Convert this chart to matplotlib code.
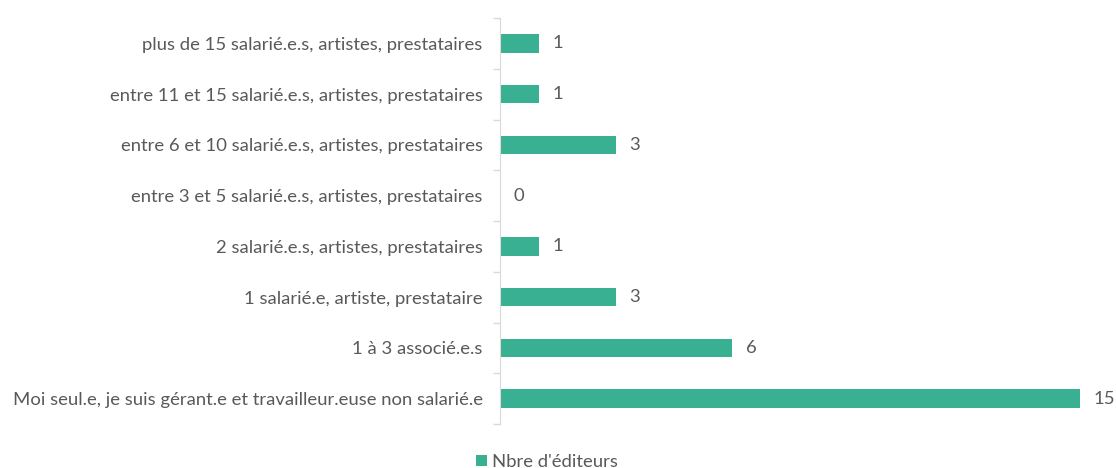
import numpy as np
import matplotlib.pyplot as plt

categories = [
    "Moi seul.e, je suis gérant.e et travailleur.euse non salarié.e",
    "1 à 3 associé.e.s",
    "1 salarié.e, artiste, prestataire",
    "2 salarié.e.s, artistes, prestataires",
    "entre 3 et 5 salarié.e.s, artistes, prestataires",
    "entre 6 et 10 salarié.e.s, artistes, prestataires",
    "entre 11 et 15 salarié.e.s, artistes, prestataires",
    "plus de 15 salarié.e.s, artistes, prestataires",
]
values = [15, 6, 3, 1, 0, 3, 1, 1]
series_name = "Nbre d'éditeurs"

plt.rcParams['font.family'] = ['Lato', 'DejaVu Sans']
text_color = '#595959'
bar_color = '#3AB092'
grid_color = '#D9D9D9'

fig = plt.figure(figsize=(11.16, 4.68), dpi=100)
ax = fig.add_axes([500 / 1116, 1 - 424 / 468, 580 / 1116, 406 / 468])

y = np.arange(len(categories))
ax.barh(y, values, height=0.36, color=bar_color, label=series_name)

for yi, v in zip(y, values):
    ax.text(v + 0.35, yi, str(v), va='center', ha='left', fontsize=13.3,
            color=text_color, clip_on=False)

ax.set_xlim(0, 15)
ax.set_ylim(-0.5, len(categories) - 0.5)
ax.set_yticks(y)
ax.set_yticklabels(categories, fontsize=13.3, color=text_color)
ax.tick_params(axis='y', length=0, pad=12.5)
ax.set_yticks(np.arange(-0.5, len(categories)), minor=True)
ax.tick_params(axis='y', which='minor', length=5, color=grid_color, width=1)
ax.set_xticks([])

for s in ['top', 'right', 'bottom']:
    ax.spines[s].set_visible(False)
ax.spines['left'].set_color(grid_color)

fig.legend(loc='lower center', bbox_to_anchor=(0.49, -0.04), frameon=False,
           fontsize=13.3, labelcolor=text_color, handlelength=0.6, handleheight=0.6,
           handletextpad=0.3)

plt.savefig('out.png', dpi=100)
